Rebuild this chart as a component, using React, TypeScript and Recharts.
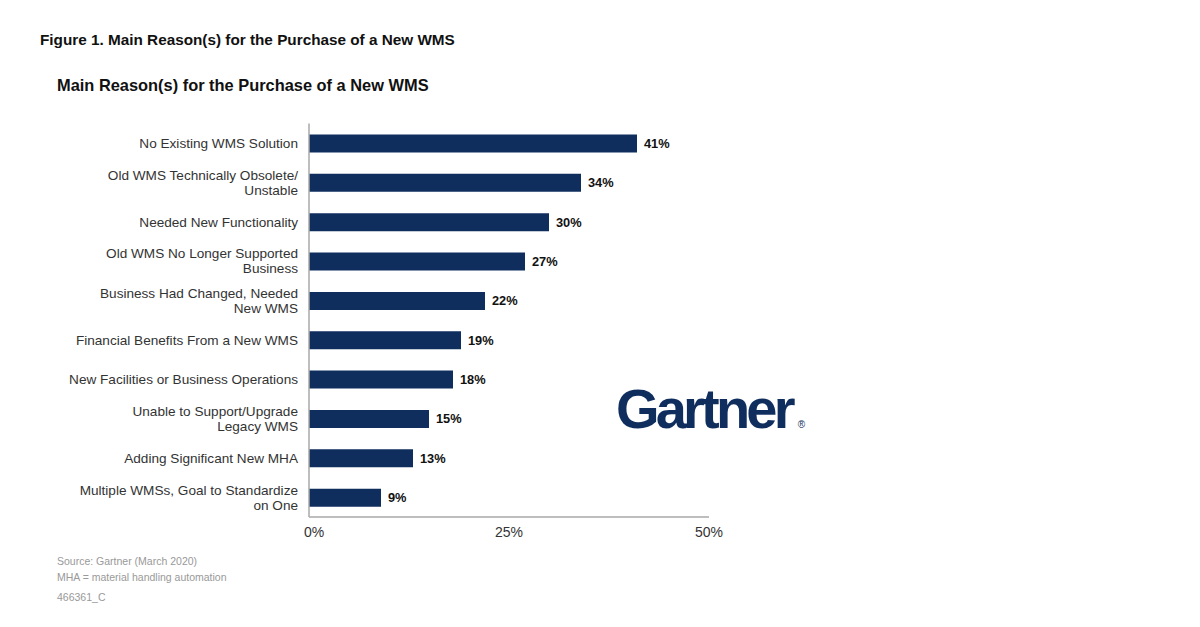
import React from "react";
import { BarChart, Bar, XAxis, YAxis, LabelList } from "recharts";

const categories = [
  "No Existing WMS Solution",
  "Old WMS Technically Obsolete/\nUnstable",
  "Needed New Functionality",
  "Old WMS No Longer Supported\nBusiness",
  "Business Had Changed, Needed\nNew WMS",
  "Financial Benefits From a New WMS",
  "New Facilities or Business Operations",
  "Unable to Support/Upgrade\nLegacy WMS",
  "Adding Significant New MHA",
  "Multiple WMSs, Goal to Standardize\non One",
];
const values = [41, 34, 30, 27, 22, 19, 18, 15, 13, 9];
const xTicks = [0, 25, 50];

const data = categories.map((name, i) => ({ name, value: values[i] }));

const FONT = "'Liberation Sans', Arial, Helvetica, sans-serif";
const NAVY = "#0f2e5e";

const YTick = (props: any) => {
  const { x, y, payload } = props;
  const lines = String(payload.value).split("\n");
  const lh = 15;
  const start = -((lines.length - 1) * lh) / 2;
  return (
    <g transform={`translate(${x},${y})`}>
      {lines.map((l, i) => (
        <text
          key={i}
          x={0}
          y={start + i * lh}
          dy="0.35em"
          textAnchor="end"
          fill="#333"
          fontSize={13.6}
          fontFamily={FONT}
        >
          {l}
        </text>
      ))}
    </g>
  );
};

const XTick = (props: any) => {
  const { x, y, payload } = props;
  const shift = payload.value === 0 ? 5 : 0;
  return (
    <text
      x={x + shift}
      y={y}
      dy="0.71em"
      textAnchor="middle"
      fill="#333"
      fontSize={14}
      fontFamily={FONT}
    >
      {payload.value + "%"}
    </text>
  );
};

const ValueLabel = (props: any) => {
  const { x, y, width, height, value } = props;
  return (
    <text
      x={x + width + 7}
      y={y + height / 2}
      dy="0.35em"
      textAnchor="start"
      fill="#111"
      fontSize={12.8}
      fontWeight="bold"
      fontFamily={FONT}
    >
      {value + "%"}
    </text>
  );
};

export default function App() {
  return (
    <div
      style={{
        position: "absolute",
        left: 0,
        top: 0,
        width: 1200,
        height: 627,
        background: "#fff",
        fontFamily: FONT,
        overflow: "hidden",
      }}
    >
      <div
        style={{
          position: "absolute",
          left: 40,
          top: 31,
          fontSize: 15.3,
          fontWeight: "bold",
          color: "#111",
          whiteSpace: "nowrap",
        }}
      >
        Figure 1. Main Reason(s) for the Purchase of a New WMS
      </div>
      <div
        style={{
          position: "absolute",
          left: 57,
          top: 76,
          fontSize: 16.4,
          fontWeight: "bold",
          color: "#111",
          whiteSpace: "nowrap",
        }}
      >
        Main Reason(s) for the Purchase of a New WMS
      </div>
      <div style={{ position: "absolute", left: 0, top: 0 }}>
        <BarChart
          width={1200}
          height={627}
          data={data}
          layout="vertical"
          margin={{ top: 123.5, right: 491, bottom: 80, left: 48 }}
          barSize={18}
        >
          <XAxis
            type="number"
            domain={[0, 50]}
            ticks={xTicks}
            height={30}
            axisLine={{ stroke: "#a8a8a8", strokeWidth: 1.5 }}
            tickLine={false}
            tickMargin={4}
            tick={<XTick />}
            interval={0}
          />
          <YAxis
            type="category"
            dataKey="name"
            width={261}
            axisLine={{ stroke: "#a8a8a8", strokeWidth: 1.5 }}
            tickLine={false}
            tickMargin={5}
            tick={<YTick />}
            interval={0}
          />
          <Bar dataKey="value" fill={NAVY} isAnimationActive={false}>
            <LabelList dataKey="value" content={<ValueLabel />} />
          </Bar>
        </BarChart>
      </div>
      <div
        style={{
          position: "absolute",
          left: 616,
          top: 376.5,
          fontSize: 56,
          fontWeight: "bold",
          color: NAVY,
          letterSpacing: -3.8,
          whiteSpace: "nowrap",
          lineHeight: "64px",
        }}
      >
        Gartner
        <span style={{ fontSize: 10, letterSpacing: 0, marginLeft: 6, fontWeight: "normal" }}>®</span>
      </div>
      <div
        style={{
          position: "absolute",
          left: 57,
          top: 553,
          fontSize: 10.5,
          color: "#999",
          lineHeight: "16px",
        }}
      >
        <div>Source: Gartner (March 2020)</div>
        <div>MHA = material handling automation</div>
        <div style={{ marginTop: 4 }}>466361_C</div>
      </div>
    </div>
  );
}
